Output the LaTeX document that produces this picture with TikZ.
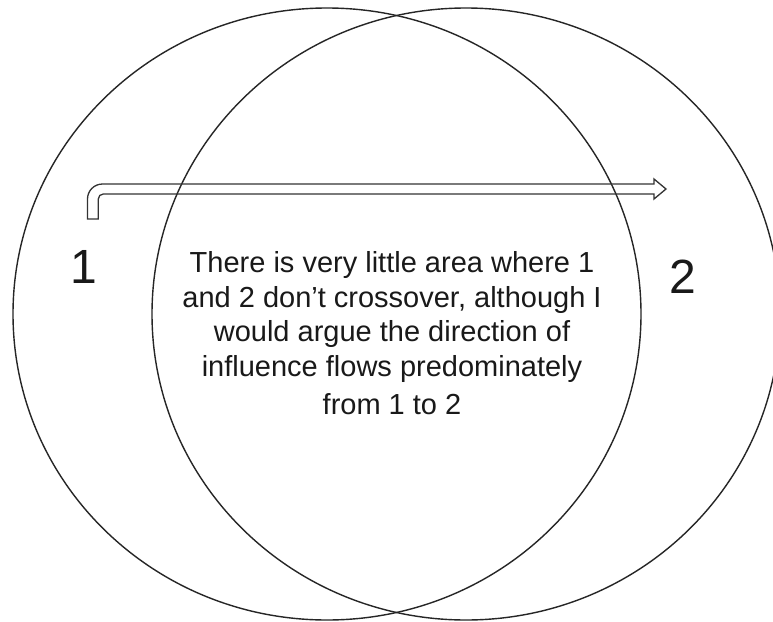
\documentclass[tikz,border=0pt]{standalone}
\usepackage{fontspec}
\setmainfont{Liberation Sans}
\begin{document}
\begin{tikzpicture}[x=1pt,y=-1pt,
  ring/.style={draw=black!85, line width=1.4pt},
  outline/.style={draw=black!80, line width=1.3pt, line join=miter},
  bodytext/.style={anchor=base, inner sep=0pt, font=\fontsize{29}{34.5}\selectfont, text=black!90},
  digit/.style={anchor=base, inner sep=0pt, font=\fontsize{48}{56}\selectfont, text=black!90}]
\useasboundingbox (0,0) rectangle (773,621);
\clip (0,0) rectangle (773,621);
\fill[white] (0,0) rectangle (773,621);
% circles
\draw[ring] (327,314) ellipse [x radius=314pt, y radius=306pt];
\draw[ring] (466,314) ellipse [x radius=314pt, y radius=306pt];
% bent arrow outline
\coordinate (stemL) at (87.5,219);
\coordinate (stemR) at (98.3,219);
\draw[outline] (stemL) -- (87.5,199)
  .. controls (87.5,190.7) and (94.2,184) .. (102.5,184)
  -- (654,184) -- (654,179) -- (666,189) -- (654,199) -- (654,194)
  -- (103.3,194)
  .. controls (100.5,194) and (98.3,196.2) .. (98.3,199)
  -- (stemR) -- cycle;
% labels
\node[digit] (one) at (84,283) {1};
\node[digit] (two) at (683,293) {2};
\node[bodytext] (l1) at (392,272.5) {There is very little area where 1};
\node[bodytext] (l2) at (392,307) {and 2 don’t crossover, although I};
\node[bodytext] (l3) at (392,341.5) {would argue the direction of};
\node[bodytext] (l4) at (392,376) {influence flows predominately};
\node[bodytext] (l5) at (392,414.6) {from 1 to 2};
\end{tikzpicture}
\end{document}
